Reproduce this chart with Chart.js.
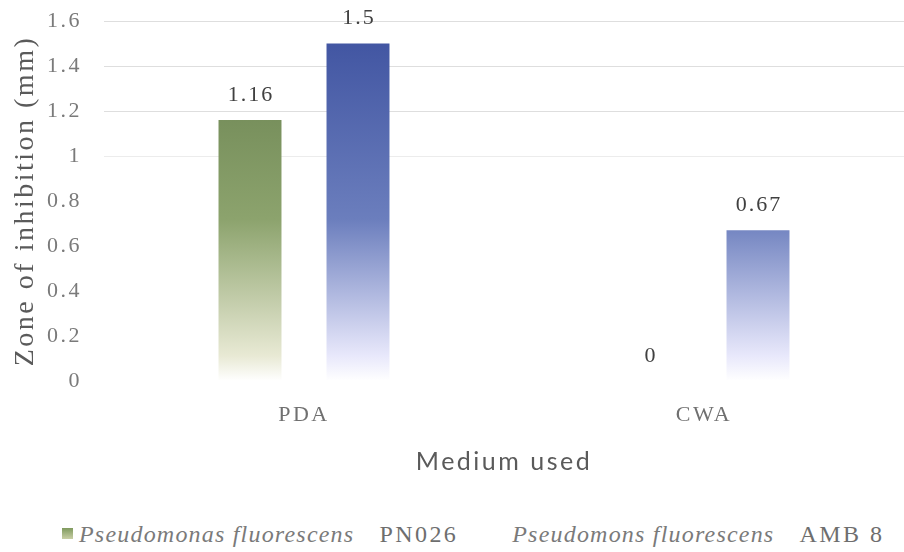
<!DOCTYPE html>
<html>
<head>
<meta charset="utf-8">
<script src="https://cdn.jsdelivr.net/npm/chart.js@4"></script>
<style>
  html, body { margin: 0; padding: 0; background: #fff; }
  #wrap { position: relative; width: 904px; height: 552px; }
  #c { position: absolute; left: 0; top: 0; }
  #legend { position: absolute; left: 62px; top: 521px; white-space: nowrap;
    font-family: "Liberation Serif", serif; font-size: 24px; color: #6e6e6e; }
  #legend i { font-style: italic; letter-spacing: 1.2px; color: #7a7a7a; }
  #legend .n { letter-spacing: 2.4px; }
  .sw { display: inline-block; width: 11px; height: 11px; margin-right: 6px; vertical-align: 3px; }
</style>
</head>
<body>
<div id="wrap">
  <canvas id="c" width="904" height="481"></canvas>
  <div id="legend">
    <span class="sw" style="background:linear-gradient(#7f9a5e,#c9cfa6)"></span><i>Pseudomonas fluorescens</i><span class="n">&nbsp;&nbsp;&nbsp;PN026</span>&nbsp;&nbsp;&nbsp;&nbsp;&nbsp;&nbsp;&nbsp;&nbsp;&nbsp;<i>Pseudomons fluorescens</i><span class="n">&nbsp;&nbsp;&nbsp;AMB 8</span>
  </div>
</div>
<script>
const media = ['PDA', 'CWA'];
const pn026 = [1.16, 0];
const amb8 = [1.5, 0.67];
const seriesNames = ['Pseudomonas fluorescens PN026', 'Pseudomons fluorescens AMB 8'];
const yTicks = [0, 0.2, 0.4, 0.6, 0.8, 1, 1.2, 1.4, 1.6];

function barGradient(ctx, top, mid, bottom) {
  const chart = ctx.chart;
  const area = chart.chartArea;
  if (!area) return top;
  const y = chart.scales.y;
  const el = ctx.element;
  const yTop = el && el.y !== undefined ? el.y : area.top;
  const yBase = y.getPixelForValue(0);
  if (yBase - yTop < 2) return 'rgba(0,0,0,0)';
  const g = chart.ctx.createLinearGradient(0, yTop, 0, yBase);
  g.addColorStop(0, top);
  g.addColorStop(0.55, mid);
  g.addColorStop(0.93, bottom);
  g.addColorStop(1, '#ffffff');
  return g;
}

// the source picture has wide letter spacing everywhere
const spacing = {
  id: 'spacing',
  beforeUpdate(chart) { chart.ctx.letterSpacing = '2.5px'; },
  beforeDraw(chart) { chart.ctx.letterSpacing = '2.5px'; }
};

const valueLabels = {
  id: 'valueLabels',
  afterDatasetsDraw(chart) {
    const c = chart.ctx;
    c.save();
    c.letterSpacing = '2px';
    c.font = '22px "Liberation Serif", serif';
    c.fillStyle = '#404040';
    c.textAlign = 'center';
    c.textBaseline = 'middle';
    chart.data.datasets.forEach((ds, i) => {
      chart.getDatasetMeta(i).data.forEach((bar, j) => {
        c.fillText(String(ds.data[j]), bar.x + 1, bar.y - 25);
      });
    });
    c.restore();
  }
};

new Chart(document.getElementById('c').getContext('2d'), {
  type: 'bar',
  data: {
    labels: media,
    datasets: [
      {
        label: seriesNames[0],
        data: pn026,
        backgroundColor: ctx => barGradient(ctx, '#647d4c', '#8ca36d', '#e8e9d4')
      },
      {
        label: seriesNames[1],
        data: amb8,
        backgroundColor: ctx => barGradient(ctx, '#3d519f', '#6b7ebd', '#e8e8fb')
      }
    ]
  },
  options: {
    responsive: false,
    animation: false,
    layout: { padding: { top: 0, right: 0, left: 9, bottom: 0 } },
    datasets: { bar: { categoryPercentage: 0.54, barPercentage: 0.583 } },
    plugins: {
      legend: { display: false },
      tooltip: { enabled: false }
    },
    scales: {
      x: {
        afterFit: axis => { axis.height = 100; },
        grid: { display: false, drawTicks: false },
        border: { display: false },
        ticks: { color: '#707070', padding: 21, font: { family: '"Liberation Serif", serif', size: 22 } },
        title: { display: true, text: 'Medium used', color: '#5a5a5a', padding: { top: 16, bottom: 4 },
          font: { family: 'Lato, sans-serif', size: 25 } }
      },
      y: {
        min: 0, max: 1.6,
        afterFit: axis => { axis.width = 95; axis.paddingTop = 21; axis.paddingBottom = 0; },
        afterBuildTicks: axis => { axis.ticks = yTicks.map(v => ({ value: v })); },
        ticks: { color: '#7a7a7a', padding: 22,
          font: { family: '"Liberation Serif", serif', size: 22 },
          callback: v => String(v) },
        grid: { drawTicks: false,
          color: ctx => (ctx.tick && ctx.tick.value >= 0.99 ? (ctx.tick.value < 1.01 ? '#ececec' : '#dedede') : 'rgba(0,0,0,0)') },
        border: { display: false },
        title: { display: true, text: 'Zone of inhibition (mm)', color: '#5a5a5a', padding: { top: 0, bottom: 6 },
          font: { family: '"Liberation Serif", serif', size: 28 } }
      }
    }
  },
  plugins: [spacing, valueLabels]
});
</script>
</body>
</html>
